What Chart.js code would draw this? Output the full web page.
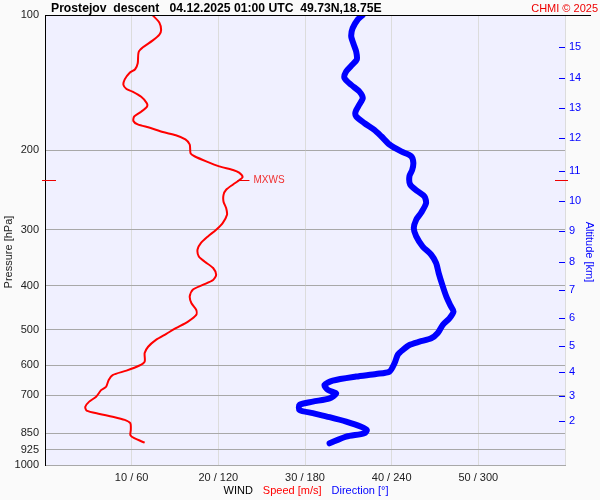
<!DOCTYPE html>
<html>
<head>
<meta charset="utf-8">
<script src="https://cdn.jsdelivr.net/npm/chart.js@4.4.1/dist/chart.umd.min.js"></script>
<style>
  html, body { margin: 0; padding: 0; background: #fafafa; }
  canvas { display: block; }
</style>
</head>
<body>
<canvas id="chart" width="600" height="500"></canvas>
<script>
// wind speed profile (hPa, m/s)
const speedPressure = [100, 104, 108, 110.5, 114, 118, 121, 128, 132, 134.5, 139, 143, 146, 148, 152, 157, 160, 164, 168, 172,
  175, 178, 182, 185, 189, 194, 203, 206, 211.5, 217, 221, 224, 229, 233, 238, 244.5, 251, 260, 268.5, 278,
  290, 300, 310.5, 321, 332, 344, 353, 365, 378, 388, 398, 408, 422, 437, 452, 464, 480, 496.5, 511, 527,
  546, 564, 589, 601, 617, 631, 647, 670, 681, 705, 723, 742, 757, 770, 781, 794, 808, 836, 858, 872, 892];
const speed = [12.4, 13.2, 13.4, 13.2, 12.4, 11.3, 10.8, 10.7, 10.4, 9.75, 9.2, 9.05, 9.4, 10.1, 11.1, 11.75, 11.75, 11.1, 10.3, 10.2,
  10.7, 12.1, 13.6, 15.1, 16.2, 16.7, 16.8, 17.25, 18.6, 20.1, 21.7, 22.4, 22.8, 22.4, 21.7, 20.9, 20.6, 20.6, 20.9, 21.0,
  20.5, 19.75, 18.8, 18.0, 17.6, 17.75, 18.4, 19.4, 19.75, 19.4, 18.2, 17.05, 16.7, 16.9, 17.45, 17.45, 16.5, 15.1, 14.0, 12.8,
  11.9, 11.5, 11.5, 10.9, 9.4, 7.8, 7.35, 7.05, 6.5, 5.9, 5.1, 4.65, 4.8, 6.3, 7.8, 9.2, 9.85, 9.9, 9.85, 10.3, 11.5];

// wind direction profile (hPa, degrees)
const dirPressure = [100, 102.3, 107, 111.5, 116, 120.5, 125.5, 129, 133.5, 138, 143, 148, 153, 158, 164, 168, 174, 180, 186, 194,
  201, 206, 213, 221, 228, 238, 246.5, 253, 262, 275, 285, 297.5, 310.5, 327, 341, 356, 375, 401, 422, 441,
  456, 472, 488, 509, 523, 532, 541, 555, 569, 594, 620, 627.5, 636, 649.5, 664, 681, 693, 711, 723, 735,
  754.5, 767, 783, 801, 822, 836, 850, 865, 895];
const direction = [220, 216.6, 213, 212, 213.6, 215.4, 215.9, 212.7, 208.5, 207.3, 212, 217.7, 220, 217.7, 215, 215.4, 221.2, 228, 232.8, 238.5,
  246.6, 253.5, 255, 254.2, 252.3, 252.8, 258, 262.7, 263.8, 260.4, 257, 255.3, 257, 261.5, 267.4, 270.8, 272.6, 275.4, 277.8, 280.5,
  282.8, 280, 275.4, 271.9, 267.4, 259.3, 252.3, 247.7, 244.2, 242, 238.5, 229.3, 215.4, 199.2, 193.5, 195.8, 201.6, 197, 185.4, 176.2,
  176.2, 185.4, 197, 208.5, 218.9, 222.8, 221.2, 208.5, 197];

// axes
const pressureTicks = [100, 200, 300, 400, 500, 600, 700, 850, 925, 1000];
const speedTicks = [10, 20, 30, 40, 50];
const altKm = [15, 14, 13, 12, 11, 10, 9, 8, 7, 6, 5, 4, 3, 2];
const altPressure = [117.9, 138.2, 160.6, 187.3, 221.8, 259.6, 301.6, 354.1, 408, 471.6, 542.8, 620.1, 702.2, 798.4];

// maximum wind marker
const mxwsPressure = 233;
const mxwsSpeed = 22.9;

const FONT = '"Liberation Sans", Arial, sans-serif';
const titleText = 'Prostejov  descent   04.12.2025 01:00 UTC  49.73N,18.75E';

function rotatedText(ctx, text, x, y, angle, color) {
  ctx.save();
  ctx.translate(x, y);
  ctx.rotate(angle);
  ctx.textAlign = 'center';
  ctx.textBaseline = 'middle';
  ctx.fillStyle = color;
  ctx.font = '11px ' + FONT;
  ctx.fillText(text, 0, 0);
  ctx.restore();
}

const decor = {
  id: 'decor',
  beforeDraw(chart) {
    const { ctx, chartArea: a } = chart;
    ctx.save();
    ctx.fillStyle = '#fafafa';
    ctx.fillRect(0, 0, chart.width, chart.height);
    ctx.fillStyle = '#f0f0ff';
    ctx.fillRect(a.left, a.top, a.right - a.left, a.bottom - a.top);
    ctx.restore();
  },
  afterDraw(chart) {
    const { ctx, chartArea: a, scales } = chart;
    ctx.save();

    // top frame line
    ctx.strokeStyle = '#000';
    ctx.lineWidth = 1;
    ctx.beginPath();
    ctx.moveTo(a.left, a.top + 0.5);
    ctx.lineTo(591, a.top + 0.5);
    ctx.stroke();

    // header
    ctx.textBaseline = 'alphabetic';
    ctx.font = 'bold 12.2px ' + FONT;
    ctx.fillStyle = '#000';
    ctx.textAlign = 'left';
    ctx.fillText(titleText, 51, 12);
    ctx.font = '11px ' + FONT;
    ctx.fillStyle = '#ee0000';
    ctx.textAlign = 'right';
    ctx.fillText('CHMI \u00a9 2025', 598, 12);

    // altitude tick marks (inside the plot)
    const alt = scales.yAlt;
    ctx.strokeStyle = '#0000ff';
    ctx.beginPath();
    alt.ticks.forEach(t => {
      const y = Math.round(alt.getPixelForValue(t.value)) + 0.5;
      ctx.moveTo(a.right - 6, y);
      ctx.lineTo(a.right, y);
    });
    ctx.stroke();

    // axis titles
    rotatedText(ctx, 'Pressure [hPa]', 8.5, 252, -Math.PI / 2, '#222');
    rotatedText(ctx, 'Altitude [km]', 589, 252, Math.PI / 2, '#0000ff');

    // WIND  Speed  Direction
    ctx.font = '11px ' + FONT;
    ctx.textAlign = 'left';
    ctx.textBaseline = 'middle';
    const parts = [['WIND', '#000'], ['Speed [m/s]', '#ff0000'], ['Direction [\u00b0]', '#0000ff']];
    const gap = 10;
    let total = parts.reduce((s, p) => s + ctx.measureText(p[0]).width, 0) + gap * (parts.length - 1);
    let x = 306 - total / 2;
    parts.forEach(p => {
      ctx.fillStyle = p[1];
      ctx.fillText(p[0], x, 491);
      x += ctx.measureText(p[0]).width + gap;
    });

    // MXWS marker
    const mx = scales.x.getPixelForValue(mxwsSpeed);
    const my = Math.round(scales.y.getPixelForValue(mxwsPressure)) + 0.5;
    ctx.strokeStyle = '#ee0000';
    ctx.beginPath();
    ctx.moveTo(a.left - 3, my); ctx.lineTo(a.left + 11, my);
    ctx.moveTo(a.right - 10, my); ctx.lineTo(a.right + 3, my);
    ctx.moveTo(mx - 6, my); ctx.lineTo(mx + 6, my);
    ctx.stroke();
    ctx.fillStyle = '#f03030';
    ctx.font = '10px ' + FONT;
    ctx.fillText('MXWS', mx + 10, my);

    ctx.restore();
  }
};

const ctx = document.getElementById('chart').getContext('2d');

const chart = new Chart(ctx, {
  type: 'scatter',
  data: {
    datasets: [
      {
        label: 'Speed [m/s]',
        data: speed.map((v, i) => ({ x: v, y: speedPressure[i] })),
        xAxisID: 'x',
        yAxisID: 'y',
        showLine: true,
        borderColor: '#ff0000',
        borderWidth: 2,
        pointRadius: 0,
        tension: 0.25,
      },
      {
        label: 'Direction [\u00b0]',
        data: direction.map((v, i) => ({ x: v, y: dirPressure[i] })),
        xAxisID: 'xDir',
        yAxisID: 'y',
        showLine: true,
        borderColor: '#0000ff',
        borderWidth: 6,
        borderJoinStyle: 'round',
        borderCapStyle: 'round',
        pointRadius: 0,
        tension: 0.25,
      },
    ],
  },
  options: {
    responsive: false,
    animation: false,
    devicePixelRatio: 1,
    layout: { padding: { top: 15, left: 0, right: 0, bottom: 0 } },
    plugins: {
      legend: { display: false },
      tooltip: { enabled: false },
    },
    scales: {
      x: {
        type: 'linear',
        position: 'bottom',
        min: 0,
        max: 60,
        afterBuildTicks: (s) => { s.ticks = [0].concat(speedTicks, [60]).map(v => ({ value: v })); },
        afterFit: (s) => { s.height = 35; },
        ticks: {
          padding: 6,
          color: '#222',
          font: { family: FONT, size: 11 },
          maxRotation: 0,
          autoSkip: false,
          callback: (v) => (speedTicks.includes(v) ? v + ' / ' + v * 6 : ''),
        },
        grid: { color: '#dcdcdc', drawTicks: false },
        border: { color: '#a8a8a8' },
      },
      xDir: {
        type: 'linear',
        display: false,
        min: 0,
        max: 360,
      },
      y: {
        type: 'logarithmic',
        position: 'left',
        reverse: true,
        min: 100,
        max: 1000,
        afterBuildTicks: (s) => { s.ticks = pressureTicks.map(v => ({ value: v })); },
        afterFit: (s) => { s.width = 45; },
        ticks: {
          padding: 6,
          color: '#222',
          font: { family: FONT, size: 11 },
          autoSkip: false,
          callback: (v) => String(v),
        },
        grid: {
          color: (c) => (c.tick && c.tick.value === 100 ? 'rgba(0,0,0,0)' : '#a8a8a8'),
          drawTicks: false,
        },
        border: { color: '#000', width: 1 },
      },
      yAlt: {
        type: 'logarithmic',
        position: 'right',
        reverse: true,
        min: 100,
        max: 1000,
        afterBuildTicks: (s) => { s.ticks = altPressure.map(v => ({ value: v })); },
        afterFit: (s) => { s.width = 35; },
        ticks: {
          padding: 4,
          color: '#0000ff',
          font: { family: FONT, size: 11 },
          autoSkip: false,
          callback: (v, i) => String(altKm[i]),
        },
        grid: { drawOnChartArea: false, drawTicks: false },
        border: { display: false },
      },
    },
  },
  plugins: [decor],
});
</script>
</body>
</html>
